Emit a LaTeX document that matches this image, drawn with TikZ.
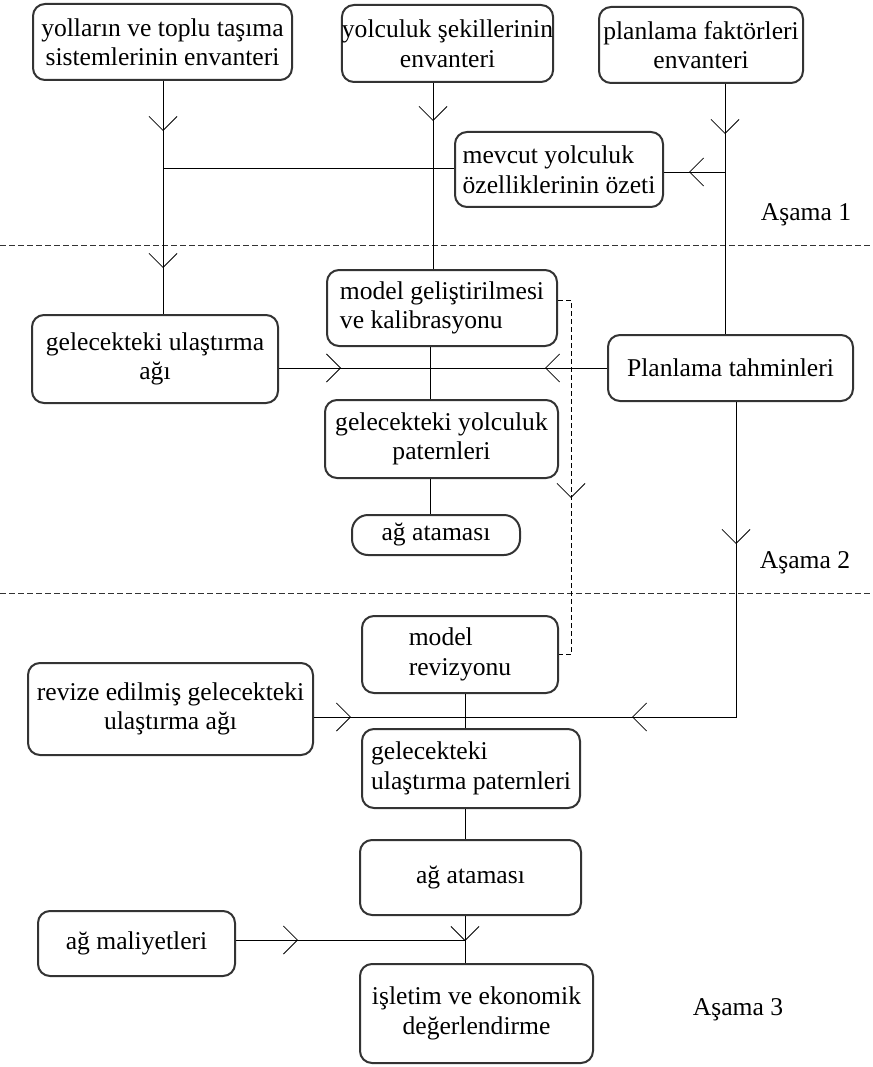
\documentclass[tikz,border=0pt]{standalone}
\usepackage{fontspec}
\setmainfont{Liberation Serif}
\usetikzlibrary{arrows.meta,decorations.markings}
\tikzset{
  box/.style={draw=black!80, line width=2pt, rounded corners=12pt, inner sep=0pt,
    font=\fontsize{25.6}{29.5}\selectfont, align=center},
  conn/.style={line width=0.8pt, black},
  vtip/.style={postaction={decorate, decoration={markings,
    mark=at position #1 with {\arrow{Straight Barb[length=14pt,width=28pt,line width=0.8pt]}}}}},
  phase/.style={font=\fontsize{25.6}{29.5}\selectfont},
  sep/.style={line width=0.9pt, dash pattern=on 6pt off 3pt, black!80},
}
\begin{document}
\begin{tikzpicture}[x=1pt,y=-1pt]
\useasboundingbox (0,0) rectangle (872,1067);

% nodes
\node[box, minimum width=259pt, minimum height=76pt] (A) at (162.5,42) {yolların ve toplu taşıma\\sistemlerinin envanteri};
\node[box, minimum width=211pt, minimum height=77pt] (B) at (447.5,43.5) {yolculuk şekillerinin\\envanteri};
\node[box, minimum width=204pt, minimum height=76pt] (C) at (701,45) {planlama faktörleri\\envanteri};
\node[box, align=left, minimum width=208pt, minimum height=75pt] (M) at (559,169.5) {mevcut yolculuk\\özelliklerinin özeti};
\node[box, align=left, minimum width=230pt, minimum height=76pt] (MG) at (442,308) {model geliştirilmesi\\ ve kalibrasyonu};
\node[box, minimum width=246pt, minimum height=88pt] (GUA) at (155,359) {gelecekteki ulaştırma\\ağı};
\node[box, minimum width=245pt, minimum height=66pt] (PT) at (730.5,368) {Planlama tahminleri};
\node[box, minimum width=233pt, minimum height=78pt] (GYP) at (441.5,439) {gelecekteki yolculuk\\paternleri};
\node[box, rounded corners=16pt, minimum width=168pt, minimum height=40pt] (AA1) at (436,535) {ağ ataması};
\node[box, align=left, minimum width=196pt, minimum height=77pt] (MR) at (460,654.5) {model\\revizyonu};
\node[box, minimum width=285pt, minimum height=92pt] (RGU) at (170.5,709) {revize edilmiş gelecekteki\\ulaştırma ağı};
\node[box, align=left, minimum width=218pt, minimum height=79pt] (GUP) at (471,768.5) {gelecekteki\\ulaştırma paternleri};
\node[box, minimum width=221pt, minimum height=75pt] (AA2) at (470.5,877.5) {ağ ataması};
\node[box, minimum width=197pt, minimum height=65pt] (AM) at (136.5,943.5) {ağ maliyetleri};
\node[box, minimum width=233pt, minimum height=99pt] (IE) at (476.5,1013.5) {işletim ve ekonomik\\değerlendirme};

\node[phase] (P1) at (806,215) {Aşama 1};
\node[phase] (P2) at (805,563) {Aşama 2};
\node[phase] (P3) at (738,1010) {Aşama 3};

% stage separators
\coordinate (s1l) at (0,245); \coordinate (s1r) at (872,245);
\coordinate (s2l) at (0,593); \coordinate (s2r) at (872,593);
\draw[sep] (s1l) -- (s1r);
\draw[sep] (s2l) -- (s2r);

% junction coordinates
\coordinate (ax) at (163,168);
\coordinate (bx) at (433,0);
\coordinate (cj) at (725,172);
\coordinate (mj) at (430,368);
\coordinate (pj) at (736,717);
\coordinate (rj) at (465,717);
\coordinate (lj) at (465,940);

% phase 1
\draw[conn, vtip=50pt, vtip=187pt] (A.south -| ax) -- (ax |- GUA.north);
\draw[conn] (ax) -- (ax -| M.west);
\draw[conn, vtip=38pt] (B.south -| bx) -- (bx |- MG.north);
\draw[conn, vtip=50pt] (C.south -| cj) -- (cj |- PT.north);
\draw[conn, vtip=36pt] (cj) -- (cj -| M.east);

% phase 2
\draw[conn, vtip=62pt] (GUA.east |- mj) -- (mj);
\draw[conn, vtip=62pt] (PT.west |- mj) -- (mj);
\draw[conn] (MG.south -| mj) -- (mj |- GYP.north);
\draw[conn] (GYP.south -| mj) -- (mj |- AA1.north);
\draw[conn, dash pattern=on 5pt off 3pt, vtip=211pt] ([yshift=8pt]MG.east) -- ++(13,0) |- (MR.east);

% phase 3
\draw[conn, vtip=142pt, vtip=419pt] (PT.south -| pj) -- (pj) -- (rj);
\draw[conn, vtip=37pt] (RGU.east |- rj) -- (rj);
\draw[conn] (MR.south -| rj) -- (rj |- GUP.north);
\draw[conn] (GUP.south -| rj) -- (rj |- AA2.north);
\draw[conn, vtip=25pt] (AA2.south -| lj) -- (lj |- IE.north);
\draw[conn, vtip=62pt] (AM.east |- lj) -- (lj);
\end{tikzpicture}
\end{document}
